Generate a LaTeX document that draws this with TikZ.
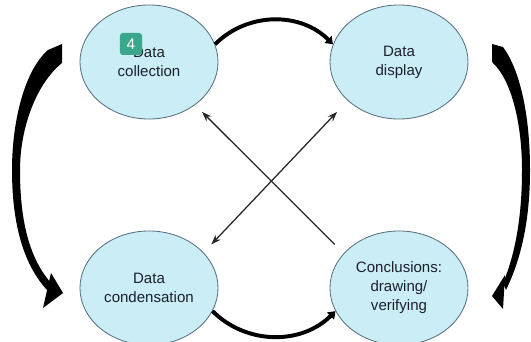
\documentclass[tikz,border=0pt]{standalone}
\usepackage{fontspec}
\setmainfont{Liberation Sans}
\usepackage{tikz}
\usetikzlibrary{arrows.meta, shapes.geometric}
\definecolor{bubble}{RGB}{203,237,246}
\definecolor{rim}{RGB}{88,112,128}
\definecolor{ink}{RGB}{28,32,44}
\definecolor{teal4}{RGB}{58,166,140}

\begin{document}
\begin{tikzpicture}[x=0.025cm, y=0.025cm, >={Stealth[length=7pt, width=5pt]}]
    \tikzstyle{phase} = [ellipse, draw=rim, fill=bubble, line width=0.6pt,
        minimum width=3.45cm, minimum height=2.85cm, inner sep=0pt,
        text=ink, align=center, font=\fontsize{10.7}{13.5}\selectfont]
    \tikzstyle{badge} = [fill=teal4, rounded corners=2pt, minimum size=0.55cm,
        inner sep=0pt, text=white, font=\fontsize{11}{13}\selectfont]
    \tikzstyle{turn} = [line width=2.8pt, -{Triangle[length=5pt, width=7pt]}]
    \tikzstyle{link} = [line width=0.9pt, draw=black!85]
    \tikzstyle{brush} = [fill=black]
    \clip (0,0) rectangle (531,341);
    \node [phase] at (149,279) (collect) {Data\\collection};
    \node [phase] at (399,279) (display) {Data\\display};
    \node [phase] at (149,53) (condense) {Data\\condensation};
    \node [phase] at (399,53) (conclude) {Conclusions:\\drawing/\\verifying};
    \node [badge] at (131,297) (num) {4};
    \draw [turn] (collect.15) to [out=45, in=135] (display.165);
    \draw [turn] (condense.-20) to [out=-45, in=-135] (conclude.200);
    \draw [link, ->, shorten <=9pt, shorten >=7pt] (conclude.148) -- (collect.-43);
    \draw [link, <->, shorten <=8pt, shorten >=11pt] (condense.33) -- (display.217);
    % tapered side arrows
    \fill [brush] (62,297) -- (62,278) .. controls (35,256) and (20,211) .. (20,171)
        .. controls (20,118) and (30,82) .. (51,58) -- (47,51)
        .. controls (24,76) and (12,116) .. (12,171)
        .. controls (12,221) and (25,271) .. (48,291) -- cycle;
    \fill [brush] (51,68) -- (63,48) -- (43,33) -- cycle;
    \fill [brush] (492,297) -- (492,279) .. controls (512,261) and (522,216) .. (522,171)
        .. controls (522,120) and (514,84) .. (503,58) -- (506,51)
        .. controls (521,82) and (530,120) .. (530,171)
        .. controls (530,226) and (520,271) .. (503,294) -- cycle;
    \fill [brush] (505,66) -- (492,45) -- (503,32) -- cycle;
\end{tikzpicture}
\end{document}
